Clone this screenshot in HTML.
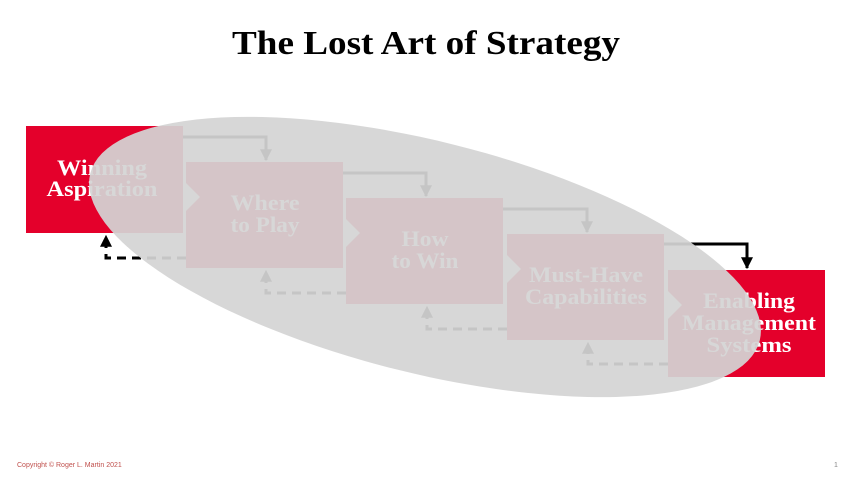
<!DOCTYPE html>
<html><head><meta charset="utf-8"><style>
html,body{margin:0;padding:0;background:#fff;}
svg{display:block}
</style></head><body>
<svg width="853" height="480" viewBox="0 0 853 480" xmlns="http://www.w3.org/2000/svg">
<defs>
<marker id="ah" markerWidth="4" markerHeight="4" refX="3.6" refY="2" orient="auto" markerUnits="strokeWidth" viewBox="0 0 4 4"><path d="M0,0 L4,2 L0,4 z" fill="#000"/></marker>
</defs>
<text x="426" y="54" text-anchor="middle" font-family="Liberation Serif, serif" font-weight="bold" font-size="34" fill="#000" textLength="388" lengthAdjust="spacingAndGlyphs">The Lost Art of Strategy</text>
<g fill="none" stroke="#000" stroke-width="3">
<path d="M183,137 H266 V160" marker-end="url(#ah)"/>
<path d="M343,173 H426 V196" marker-end="url(#ah)"/>
<path d="M503,209 H587 V232" marker-end="url(#ah)"/>
<path d="M664,244 H747 V268" marker-end="url(#ah)"/>
<g stroke-dasharray="9,6">
<path d="M186,258 H106 V236" marker-end="url(#ah)"/>
<path d="M346,293 H266 V271" marker-end="url(#ah)"/>
<path d="M507,329 H427 V307" marker-end="url(#ah)"/>
<path d="M668,364 H588 V343" marker-end="url(#ah)"/>
</g>
</g>
<g fill="#e4002b">
<rect x="26" y="126" width="157" height="107"/>
<path d="M186,162 H343 V268 H186 V211 L200,197 L186,183 Z"/>
<path d="M346,198 H503 V304 H346 V247 L360,233 L346,219 Z"/>
<path d="M507,234 H664 V340 H507 V283 L521,269 L507,255 Z"/>
<path d="M668,270 H825 V377 H668 V319 L682,305 L668,291 Z"/>
</g>
<g font-family="Liberation Serif, serif" font-weight="bold" font-size="22" fill="#fff" text-anchor="middle">
<text x="102" y="175" textLength="90" lengthAdjust="spacingAndGlyphs">Winning</text><text x="102" y="196" textLength="111" lengthAdjust="spacingAndGlyphs">Aspiration</text>
<text x="265" y="210" textLength="69" lengthAdjust="spacingAndGlyphs">Where</text><text x="265" y="232" textLength="69" lengthAdjust="spacingAndGlyphs">to Play</text>
<text x="425" y="246" textLength="47" lengthAdjust="spacingAndGlyphs">How</text><text x="425" y="268" textLength="67" lengthAdjust="spacingAndGlyphs">to Win</text>
<text x="586" y="282" textLength="114" lengthAdjust="spacingAndGlyphs">Must-Have</text><text x="586" y="304" textLength="122" lengthAdjust="spacingAndGlyphs">Capabilities</text>
<text x="749" y="308" textLength="92" lengthAdjust="spacingAndGlyphs">Enabling</text><text x="749" y="330" textLength="134" lengthAdjust="spacingAndGlyphs">Management</text><text x="749" y="352" textLength="85" lengthAdjust="spacingAndGlyphs">Systems</text>
</g>
<ellipse cx="425" cy="257" rx="345" ry="116" transform="rotate(14 425 257)" fill="#d4d4d4" fill-opacity="0.93"/>
<text x="17" y="467" font-family="Liberation Sans, sans-serif" font-size="7" fill="#c0504d">Copyright © Roger L. Martin 2021</text>
<text x="834" y="467" font-family="Liberation Sans, sans-serif" font-size="7" fill="#888">1</text>
</svg>
</body></html>
